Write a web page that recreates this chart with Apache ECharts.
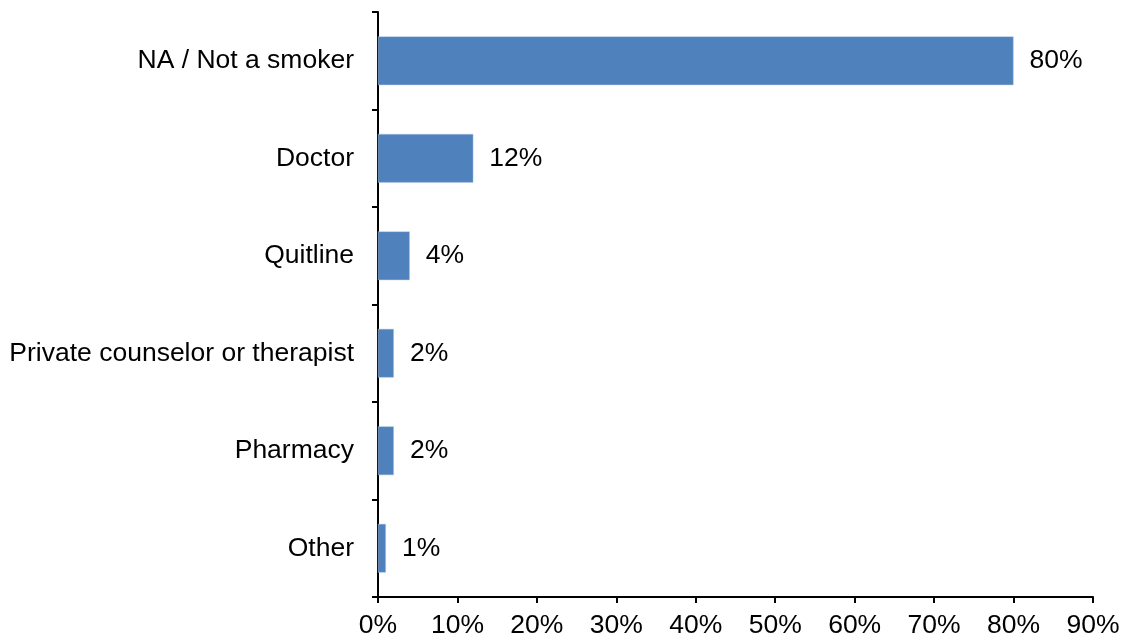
<!DOCTYPE html>
<html><head><meta charset="utf-8">
<script src="https://cdn.jsdelivr.net/npm/echarts@6/dist/echarts.min.js"></script>
<style>html,body{margin:0;padding:0;background:#fff}#c{width:1128px;height:642px}</style>
</head><body><div id="c"></div>
<script>
const categories = ["NA / Not a smoker", "Doctor", "Quitline", "Private counselor or therapist", "Pharmacy", "Other"];
const values = [80, 12, 4, 2, 2, 1];
const xTicks = [0, 10, 20, 30, 40, 50, 60, 70, 80, 90];

const chart = echarts.init(document.getElementById('c'), null, {renderer: 'canvas'});
const font = 'Liberation Sans, Arial, sans-serif';
const fs = 26.5;
chart.setOption({
  animation: false,
  grid: {left: 378, right: 35, top: 12, bottom: 45, containLabel: false},
  xAxis: {
    type: 'value', min: xTicks[0], max: xTicks[xTicks.length - 1], interval: 10,
    axisLine: {show: true, lineStyle: {color: '#000', width: 2}},
    axisTick: {show: true, length: 6, lineStyle: {color: '#000', width: 2}},
    axisLabel: {formatter: v => v + '%', fontFamily: font, fontSize: fs, color: '#000', margin: 15},
    splitLine: {show: false}
  },
  yAxis: {
    type: 'category', inverse: true, data: categories,
    axisLine: {show: true, lineStyle: {color: '#000', width: 2}},
    axisTick: {show: true, length: 6, lineStyle: {color: '#000', width: 2}},
    axisLabel: {fontFamily: font, fontSize: fs, color: '#000', margin: 24}
  },
  series: [{
    type: 'bar', data: values, barWidth: '50%',
    itemStyle: {color: '#4F81BD', borderColor: '#B9CDE5', borderWidth: 0.5},
    label: {show: true, position: 'right', distance: 16, formatter: p => p.value + '%',
      fontFamily: font, fontSize: fs, color: '#000'}
  }]
});
</script></body></html>
